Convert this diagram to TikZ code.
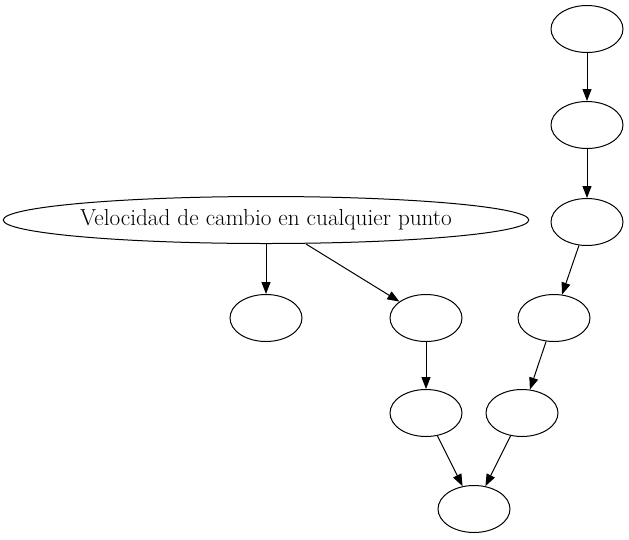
\documentclass[tikz,border=0pt]{standalone}
\usetikzlibrary{shapes.geometric,arrows.meta}
\begin{document}
\begin{tikzpicture}[x=1pt,y=-1pt,
  nd/.style={draw,ellipse,line width=1pt,minimum width=72pt,minimum height=47pt,inner sep=0pt},
  ed/.style={draw,line width=1pt,-{Triangle[length=12pt,width=9pt]}}]
\useasboundingbox (0,0) rectangle (629,539);
\node[nd] (a) at (587,29) {};
\node[nd] (b) at (587,125) {};
\node[nd] (c) at (587,222) {};
\node[nd,minimum width=522pt] (v) at (266,220) {\fontsize{23.2}{25}\selectfont Velocidad de cambio en cualquier punto};
\node[nd] (d) at (266,318) {};
\node[nd] (e) at (426,318) {};
\node[nd] (f) at (554,318) {};
\node[nd] (g) at (426,413) {};
\node[nd] (h) at (522,413) {};
\node[nd] (i) at (474,509) {};
\path[ed] (a) -- (b);
\path[ed] (b) -- (c);
\path[ed] (c) -- (f);
\path[ed] (v.south -| d) -- (d);
\path[ed] (v) ++(40,24) -- (e);
\path[ed] (e) -- (g);
\path[ed] (f) -- (h);
\path[ed] (g) -- (i);
\path[ed] (h) -- (i);
\end{tikzpicture}
\end{document}
